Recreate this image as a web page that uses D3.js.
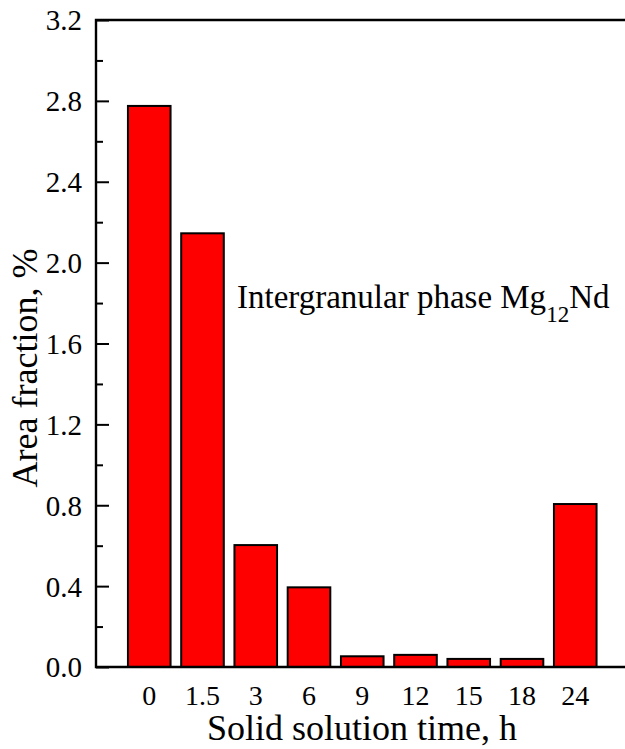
<!DOCTYPE html>
<html>
<head>
<meta charset="utf-8">
<script src="https://cdnjs.cloudflare.com/ajax/libs/d3/7.8.5/d3.min.js"></script>
<style>
  body { margin: 0; background: #fff; }
  text { font-family: "Liberation Serif", "Times New Roman", serif; fill: #000; }
</style>
</head>
<body>
<div id="chart"></div>
<script>

var times = ["0", "1.5", "3", "6", "9", "12", "15", "18", "24"]
var fractions = [2.775, 2.145, 0.603, 0.394, 0.053, 0.060, 0.040, 0.040, 0.806]
var yTicks = [0.0, 0.4, 0.8, 1.2, 1.6, 2.0, 2.4, 2.8, 3.2]
var yMinorTicks = [0.2, 0.6, 1.0, 1.4, 1.8, 2.2, 2.6, 3.0]

var outerWidth = 625,
  outerHeight = 749,
  plotLeft = 96,
  plotRight = 628.5,
  plotTop = 20,
  plotBottom = 667;

window.onload = function() {
  var scales = makeGraph()
  makeBars(scales[0], scales[1], scales[2])
}

function makeGraph() {
  // x runs over slot positions, slot 0 is the axis and the bars sit on 1..9
  var xScale = d3.scaleLinear()
      .domain([0, times.length + 1])
      .range([plotLeft, plotRight]);

  var yScale = d3.scaleLinear()
      .domain([0, 3.2])
      .range([plotBottom, plotTop]);

  var svg = d3.select("#chart").append("svg")
      .attr("width", outerWidth)
      .attr("height", outerHeight);

  return [xScale, yScale, svg];
}

function makeBars(xScale, yScale, svg) {
  var barWidth = xScale(0.8) - xScale(0)

  svg.selectAll("rect.bar")
      .data(fractions)
      .enter()
      .append("rect")
      .attr("class", "bar")
      .attr("x", function(d, i) { return xScale(i + 1) - barWidth / 2 })
      .attr("y", function(d) { return yScale(d) })
      .attr("width", barWidth)
      .attr("height", function(d) { return yScale(0) - yScale(d) })
      .style("fill", "#ff0000")
      .style("stroke", "#000")
      .style("stroke-width", 2);

  // frame: left, bottom and top (the right side falls outside the picture)
  svg.append("path")
      .attr("d", "M" + plotRight + "," + yScale(3.2) + "H" + xScale(0) + "V" + yScale(0) + "H" + plotRight)
      .style("fill", "none")
      .style("stroke", "#000")
      .style("stroke-width", 2.4);

  var yAxis = d3.axisLeft(yScale)
      .tickValues(yTicks)
      .tickSizeInner(-13)
      .tickSizeOuter(0)
      .tickPadding(14)
      .tickFormat(d3.format(".1f"));

  var gy = svg.append("g")
      .attr("transform", "translate(" + plotLeft + ",0)")
      .call(yAxis);
  gy.select(".domain").remove();
  gy.selectAll("line").style("stroke-width", 2);
  gy.selectAll("text").style("font-size", "29px").attr("dy", "0.34em");

  var yMinor = d3.axisLeft(yScale)
      .tickValues(yMinorTicks)
      .tickSizeInner(-7)
      .tickSizeOuter(0)
      .tickFormat("");

  var gm = svg.append("g")
      .attr("transform", "translate(" + plotLeft + ",0)")
      .call(yMinor);
  gm.select(".domain").remove();
  gm.selectAll("line").style("stroke-width", 2);

  svg.append("g")
      .selectAll("text")
      .data(times)
      .enter()
      .append("text")
      .attr("x", function(d, i) { return xScale(i + 1) })
      .attr("y", 705)
      .style("text-anchor", "middle")
      .style("font-size", "28px")
      .text(function(d) { return d });

  svg.append("text")
      .attr("x", 362)
      .attr("y", 740)
      .style("text-anchor", "middle")
      .style("font-size", "36px")
      .text("Solid solution time, h");

  svg.append("text")
      .attr("transform", "translate(37,368) rotate(-90)")
      .style("text-anchor", "middle")
      .style("font-size", "36px")
      .text("Area fraction, %");

  var note = svg.append("text")
      .attr("x", 237)
      .attr("y", 308)
      .style("font-size", "33px");
  note.append("tspan").text("Intergranular phase Mg");
  note.append("tspan").attr("dy", 14).style("font-size", "23px").text("12");
  note.append("tspan").attr("dy", -14).text("Nd");
}

</script>
</body>
</html>
